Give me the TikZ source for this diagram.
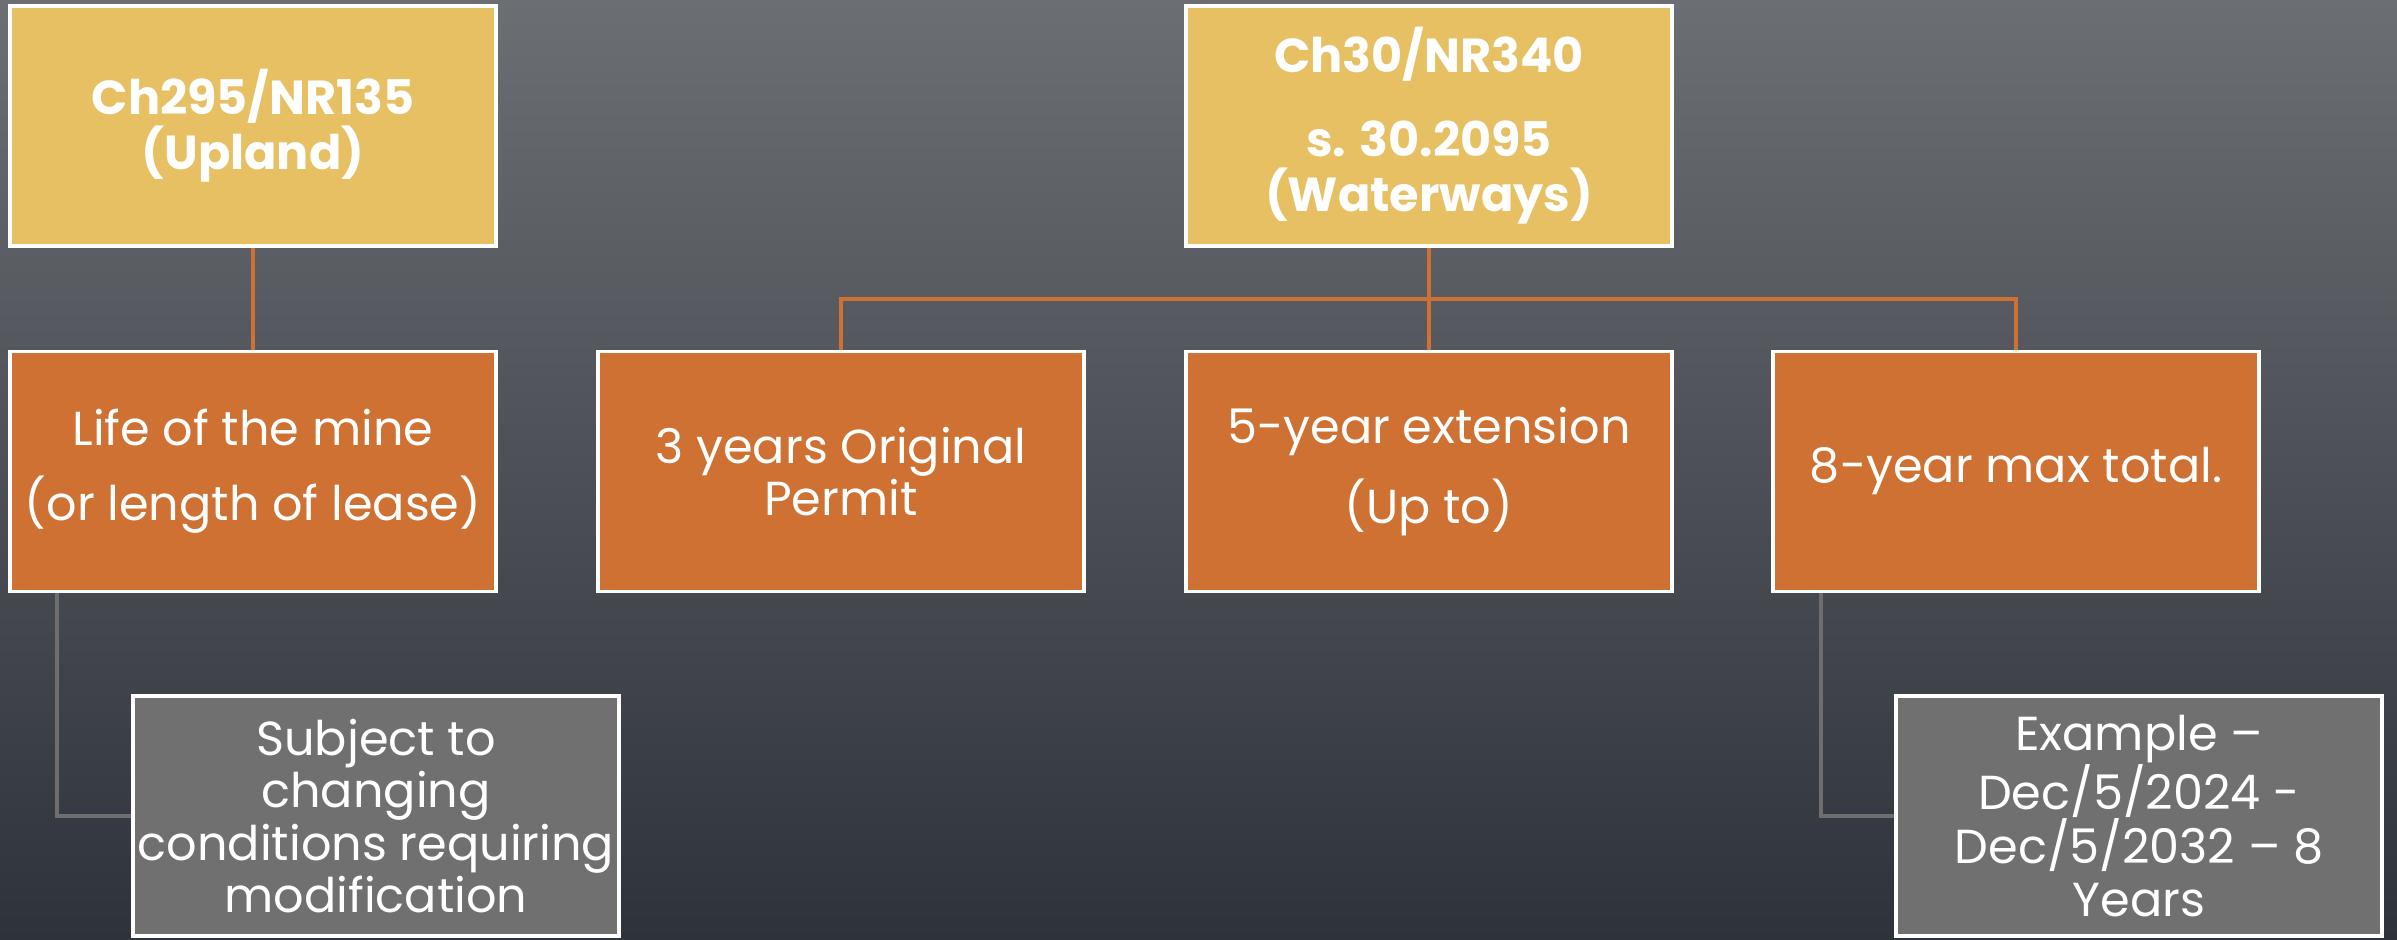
\documentclass[tikz,border=0pt]{standalone}
\usepackage{fontspec}
\usepackage{tikz}
\setmainfont{Poppins}
\definecolor{slidetop}{HTML}{6B6E73}
\definecolor{slidebottom}{HTML}{2E323A}
\definecolor{lawgold}{HTML}{E6C063}
\definecolor{termorange}{HTML}{CE7133}
\definecolor{notegray}{HTML}{707070}
\definecolor{linkgray}{HTML}{6E6E6E}
\newcommand{\boxtext}{\fontsize{34.5}{38}\selectfont}
\newcommand{\headtext}{\fontsize{34.5}{40}\selectfont\bfseries}

\begin{document}
\begin{tikzpicture}[x=1in,y=1in,
  card/.style={draw=white,line width=0.035in,minimum width=4.86in,minimum height=2.40in,align=center,text=white,inner sep=0pt,font=\boxtext},
  lawbox/.style={card,fill=lawgold,font=\headtext},
  termbox/.style={card,fill=termorange},
  notebox/.style={card,fill=notegray},
  orangelink/.style={draw=termorange,line width=0.04in},
  graylink/.style={draw=linkgray,line width=0.04in}]
\shade[top color=slidetop,bottom color=slidebottom] (0,0) rectangle (23.97,9.40);
\useasboundingbox (0,0) rectangle (23.97,9.40);

\node[lawbox] (upland) at (2.53,8.14) {Ch295/NR135\\(Upland)};
\node[lawbox] (water) at (14.29,8.14) {Ch30/NR340\\[0.28in]s. 30.2095\\(Waterways)};

\node[termbox] (life) at (2.53,4.685) {Life of the mine\\[0.22in](or length of lease)};
\node[termbox] (orig) at (8.41,4.685) {3 years Original\\Permit};
\node[termbox] (ext) at (14.29,4.685) {5-year extension\\[0.22in](Up to)};
\node[termbox] (total) at (20.16,4.685) {8-year max total.};

\node[notebox] (subject) at (3.76,1.24) {Subject to\\changing\\conditions requiring\\modification};
\node[notebox] (example) at (21.39,1.24) {Example --\\Dec/5/2024 -\\Dec/5/2032 -- 8\\Years};

\coordinate (bus) at (14.29,6.41);
\draw[orangelink] (upland) -- (life);
\draw[orangelink] (water) -- (bus);
\draw[orangelink] (bus) -| (orig);
\draw[orangelink] (bus) -- (ext);
\draw[orangelink] (bus) -| (total);

\draw[graylink] ([xshift=0.49in]life.south west) |- (subject.west);
\draw[graylink] ([xshift=0.50in]total.south west) |- (example.west);
\end{tikzpicture}
\end{document}
